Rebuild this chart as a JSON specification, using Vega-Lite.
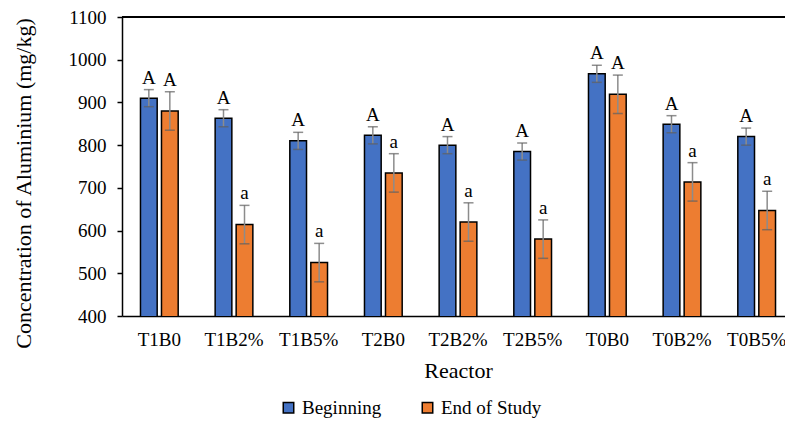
{
  "$schema": "https://vega.github.io/schema/vega-lite/v6.json",
  "width": 663,
  "height": 299,
  "autosize": {"type": "none"},
  "padding": {"left": 122, "top": 17, "right": 0, "bottom": 107},
  "background": "white",
  "config": {
    "view": {"stroke": null},
    "font": "Liberation Serif",
    "text": {"font": "Liberation Serif"},
    "title": {"font": "Liberation Serif"}
  },
  "data": {
    "values": [
      {"reactor": "T1B0", "period": "Beginning", "value": 910, "lo": 890, "hi": 930, "letter": "A"},
      {"reactor": "T1B0", "period": "End of Study", "value": 880, "lo": 835, "hi": 925, "letter": "A"},
      {"reactor": "T1B2%", "period": "Beginning", "value": 863, "lo": 843, "hi": 883, "letter": "A"},
      {"reactor": "T1B2%", "period": "End of Study", "value": 614, "lo": 569, "hi": 659, "letter": "a"},
      {"reactor": "T1B5%", "period": "Beginning", "value": 810, "lo": 790, "hi": 830, "letter": "A"},
      {"reactor": "T1B5%", "period": "End of Study", "value": 525, "lo": 480, "hi": 570, "letter": "a"},
      {"reactor": "T2B0", "period": "Beginning", "value": 823, "lo": 803, "hi": 843, "letter": "A"},
      {"reactor": "T2B0", "period": "End of Study", "value": 735, "lo": 690, "hi": 780, "letter": "a"},
      {"reactor": "T2B2%", "period": "Beginning", "value": 800, "lo": 780, "hi": 820, "letter": "A"},
      {"reactor": "T2B2%", "period": "End of Study", "value": 620, "lo": 575, "hi": 665, "letter": "a"},
      {"reactor": "T2B5%", "period": "Beginning", "value": 785, "lo": 765, "hi": 805, "letter": "A"},
      {"reactor": "T2B5%", "period": "End of Study", "value": 580, "lo": 535, "hi": 625, "letter": "a"},
      {"reactor": "T0B0", "period": "Beginning", "value": 967, "lo": 947, "hi": 987, "letter": "A"},
      {"reactor": "T0B0", "period": "End of Study", "value": 919, "lo": 874, "hi": 964, "letter": "A"},
      {"reactor": "T0B2%", "period": "Beginning", "value": 849, "lo": 829, "hi": 869, "letter": "A"},
      {"reactor": "T0B2%", "period": "End of Study", "value": 714, "lo": 669, "hi": 759, "letter": "a"},
      {"reactor": "T0B5%", "period": "Beginning", "value": 820, "lo": 800, "hi": 840, "letter": "A"},
      {"reactor": "T0B5%", "period": "End of Study", "value": 647, "lo": 602, "hi": 692, "letter": "a"}
    ]
  },
  "encoding": {
    "x": {
      "field": "reactor", "type": "nominal", "sort": null,
      "scale": {"range": [0, 672], "paddingInner": 0.495, "paddingOuter": 0.2475},
      "axis": {"title": "Reactor", "titleFont": "Liberation Serif", "titleFontWeight": "normal", "titleColor": "black", "titleFontSize": 22, "titlePadding": 11, "labelFont": "Liberation Serif", "labelColor": "black", "labelFontSize": 19, "labelAngle": 0, "labelOverlap": false, "labelBound": false, "ticks": false, "labelPadding": 14, "domainColor": "black", "domainWidth": 1.5}
    },
    "xOffset": {"field": "period", "type": "nominal", "sort": null, "scale": {"paddingInner": 0.205, "paddingOuter": 0}}
  },
  "layer": [
    {
      "mark": {"type": "rule", "color": "black", "strokeWidth": 1.5},
      "encoding": {"y": {"datum": 1100, "type": "quantitative"}, "x": null, "xOffset": null}
    },
    {
      "mark": {"type": "bar", "stroke": "black", "strokeWidth": 1.5, "clip": true},
      "encoding": {
        "y": {
          "field": "value", "type": "quantitative",
          "scale": {"domain": [400, 1100], "nice": false, "zero": false},
          "axis": {"title": "Concentration of Aluminium (mg/kg)", "titleFont": "Liberation Serif", "titleFontWeight": "normal", "titleColor": "black", "titleFontSize": 22, "titlePadding": 33, "titleY": 166, "labelFont": "Liberation Serif", "labelColor": "black", "labelFontSize": 19, "labelPadding": 11, "format": "d", "values": [400, 500, 600, 700, 800, 900, 1000, 1100], "grid": false, "tickColor": "black", "tickSize": 5, "domainColor": "black", "domainWidth": 1.5, "tickWidth": 1.5}
        },
        "color": {
          "field": "period", "type": "nominal",
          "scale": {"domain": ["Beginning", "End of Study"], "range": ["#4472C4", "#ED7D31"]},
          "legend": {"title": null, "orient": "none", "direction": "horizontal", "legendX": 157, "legendY": 381, "symbolType": "square", "symbolSize": 110, "symbolStrokeColor": "black", "symbolStrokeWidth": 1.5, "labelFont": "Liberation Serif", "labelColor": "black", "labelFontSize": 19, "labelOffset": 4, "columnPadding": 36}
        }
      }
    },
    {
      "mark": {"type": "rule", "color": "#8c8c8c", "strokeWidth": 1.5},
      "encoding": {"y": {"field": "lo", "type": "quantitative"}, "y2": {"field": "hi"}}
    },
    {
      "mark": {"type": "tick", "color": "#5f5f5f", "thickness": 1.5, "size": 10},
      "encoding": {"y": {"field": "lo", "type": "quantitative"}}
    },
    {
      "mark": {"type": "tick", "color": "#5f5f5f", "thickness": 1.5, "size": 10},
      "encoding": {"y": {"field": "hi", "type": "quantitative"}}
    },
    {
      "mark": {"type": "text", "baseline": "alphabetic", "dy": -6, "fontSize": 19, "font": "Liberation Serif", "color": "black"},
      "encoding": {"y": {"field": "hi", "type": "quantitative"}, "text": {"field": "letter"}}
    }
  ]
}
